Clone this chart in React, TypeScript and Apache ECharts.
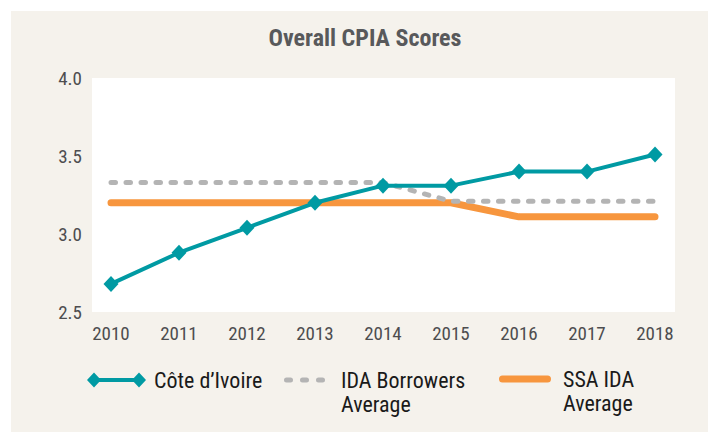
import React, { useEffect, useRef } from "react";
import * as echarts from "echarts";

const years = ["2010", "2011", "2012", "2013", "2014", "2015", "2016", "2017", "2018"];
const coteDIvoire = [2.68, 2.88, 3.04, 3.2, 3.31, 3.31, 3.4, 3.4, 3.51];
const idaBorrowers = [3.33, 3.33, 3.33, 3.33, 3.33, 3.21, 3.21, 3.21, 3.21];
const ssaIda = [3.2, 3.2, 3.2, 3.2, 3.2, 3.2, 3.11, 3.11, 3.11];
const yTicks = { min: 2.5, max: 4.0, interval: 0.5 };

const TEAL = "#009aa3";
const GRAY = "#b4b4b4";
const ORANGE = "#f7963e";
const FONT = "'Roboto Condensed', 'Roboto', sans-serif";

// legend icons: visible mark at the top, an invisible zero-area stroke at the bottom
// so the icon lines up with the first line of a two-line label
const ICON_TEAL = "path://M0 7.5L7 0L14 7.5L7 15Z M45 7.5L52 0L59 7.5L52 15Z M10 5.5H49V9.5H10Z";
const ICON_GRAY =
  "path://M2.5 0H6.5A2.5 2.5 0 0 1 6.5 5H2.5A2.5 2.5 0 0 1 2.5 0Z M18.5 0H22.5A2.5 2.5 0 0 1 22.5 5H18.5A2.5 2.5 0 0 1 18.5 0Z M34.5 0H38.5A2.5 2.5 0 0 1 38.5 5H34.5A2.5 2.5 0 0 1 34.5 0Z M0 29L41 29L0 29Z";
const ICON_ORANGE = "path://M3.5 0H48.5A3.5 3.5 0 0 1 48.5 7H3.5A3.5 3.5 0 0 1 3.5 0Z M0 31L52 31L0 31Z";

export default function App() {
  const ref = useRef<HTMLDivElement>(null);
  useEffect(() => {
    if (!ref.current) return;
    const chart = echarts.init(ref.current, null, { renderer: "svg" });
    const legendBase = {
      orient: "horizontal",
      padding: 0,
      itemStyle: { borderWidth: 0 },
      selectedMode: false,
    };
    chart.setOption({
      animation: false,
      backgroundColor: "#ffffff",
      graphic: {
        elements: [
          { type: "rect", z: -10, shape: { x: 11, y: 11, width: 697, height: 421 }, style: { fill: "#f5f2ec" } },
          { type: "rect", z: -9, shape: { x: 92, y: 78, width: 583, height: 234 }, style: { fill: "#ffffff" } },
        ],
      },
      title: {
        text: "Overall CPIA Scores",
        left: 365,
        top: 26,
        textAlign: "center",
        padding: 0,
        textStyle: { fontFamily: FONT, fontSize: 24, fontWeight: "bold", color: "#58595b" },
      },
      grid: { left: 111, right: 53, top: 78, bottom: 120 },
      xAxis: {
        type: "category",
        data: years,
        boundaryGap: false,
        axisLine: { show: false },
        axisTick: { show: false },
        splitLine: { show: false },
        axisLabel: { margin: 12, fontFamily: FONT, fontSize: 19, color: "#4d4d4f" },
      },
      yAxis: {
        type: "value",
        min: yTicks.min,
        max: yTicks.max,
        interval: yTicks.interval,
        axisLine: { show: false },
        axisTick: { show: false },
        splitLine: { show: false },
        axisLabel: {
          margin: 29,
          fontFamily: FONT,
          fontSize: 19,
          color: "#4d4d4f",
          formatter: (v: number) => v.toFixed(1),
        },
      },
      legend: [
        {
          ...legendBase,
          left: 87,
          top: 368,
          data: [{ name: "Côte d’Ivoire", icon: ICON_TEAL }],
          itemWidth: 59,
          itemHeight: 15,
          textStyle: { fontFamily: FONT, fontSize: 22, color: "#1a1a1a", lineHeight: 24, padding: [0, 0, 0, 3] },
        },
        {
          ...legendBase,
          left: 284,
          top: 368,
          data: [{ name: "IDA Borrowers Average", icon: ICON_GRAY }],
          itemWidth: 41,
          itemHeight: 29,
          formatter: () => "IDA Borrowers\nAverage",
          textStyle: { fontFamily: FONT, fontSize: 22, color: "#1a1a1a", lineHeight: 24, padding: [0, 0, 0, 11] },
        },
        {
          ...legendBase,
          left: 499,
          top: 367,
          data: [{ name: "SSA IDA Average", icon: ICON_ORANGE }],
          itemWidth: 52,
          itemHeight: 31,
          formatter: () => "SSA IDA\nAverage",
          textStyle: { fontFamily: FONT, fontSize: 22, color: "#1a1a1a", lineHeight: 24, padding: [0, 0, 0, 7] },
        },
      ],
      series: [
        {
          name: "SSA IDA Average",
          type: "line",
          data: ssaIda,
          symbol: "none",
          color: ORANGE,
          lineStyle: { color: ORANGE, width: 7, cap: "round", join: "round" },
          z: 2,
        },
        {
          name: "IDA Borrowers Average",
          type: "line",
          data: idaBorrowers,
          symbol: "none",
          color: GRAY,
          lineStyle: { color: GRAY, width: 5, type: [4.5, 10.5], cap: "round", join: "round" },
          z: 3,
        },
        {
          name: "Côte d’Ivoire",
          type: "line",
          data: coteDIvoire,
          symbol: "diamond",
          symbolSize: [15, 16],
          color: TEAL,
          itemStyle: { color: TEAL, borderWidth: 0 },
          lineStyle: { color: TEAL, width: 4 },
          z: 4,
        },
      ],
    });
    return () => chart.dispose();
  }, []);
  return <div ref={ref} style={{ position: "absolute", left: 0, top: 0, width: 708, height: 432 }} />;
}
